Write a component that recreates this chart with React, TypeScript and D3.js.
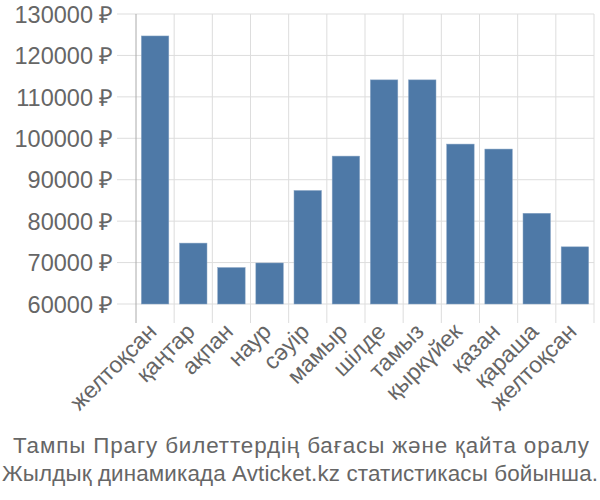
import React from "react";
import * as d3 from "d3";

const months = ["желтоқсан", "қаңтар", "ақпан", "наур", "сәуір", "мамыр", "шілде", "тамыз", "қыркүйек", "қазан", "қараша", "желтоқсан"];
const prices = [124700, 74700, 68800, 69900, 87400, 95700, 114100, 114100, 98600, 97400, 81900, 73800];
const yTicks = [60000, 70000, 80000, 90000, 100000, 110000, 120000, 130000];
const titleLines = ["Тампы Прагу билеттердің бағасы және қайта оралу", "Жылдық динамикада Avticket.kz статистикасы бойынша."];
const titleWidths = [576, 596];

export default function App() {
  const W = 600, H = 500;
  const left = 136, right = 594, top = 14, bottom = 304;
  const keys = months.map((_, i) => String(i));
  const x = d3.scaleBand<string>().domain(keys).range([left, right]).paddingInner(0.28).paddingOuter(0.14);
  const xb = d3.scaleBand<string>().domain(keys).range([left, right]);
  const y = d3.scaleLinear().domain([60000, 130000]).range([bottom, top]);
  const font = "'Liberation Sans', Arial, sans-serif";
  const bw = xb.bandwidth();
  return (
    <svg width={W} height={H} style={{ position: "absolute", left: 0, top: 0 }} fontFamily={font}>
      <rect width={W} height={H} fill="#fff" />
      {yTicks.map((t) => (
        <g key={t}>
          <line x1={117} x2={right} y1={y(t)} y2={y(t)} stroke="#ddd" strokeWidth={1} />
          <text x={113.5} y={y(t)} dy="0.37em" textAnchor="end" fontSize={23.5} fill="#666">{`${t} ₽`}</text>
        </g>
      ))}
      {keys.map((k) => (
        <line key={k} x1={xb(k)! + bw} x2={xb(k)! + bw} y1={top} y2={323} stroke="#ddd" strokeWidth={1} />
      ))}
      <line x1={left} x2={left} y1={top} y2={323} stroke="#aaa" strokeWidth={1} />
      {prices.map((v, i) => (
        <rect key={i} x={x(keys[i])} y={y(v)} width={x.bandwidth()} height={bottom - y(v)} fill="#4e79a7" stroke="#8aa6c6" strokeWidth={0.5} />
      ))}
      {months.map((m, i) => {
        const cx = xb(keys[i])! + bw / 2 + 3;
        const cy = 333;
        return (
          <text key={i} transform={`translate(${cx},${cy}) rotate(-45)`} textAnchor="end" fontSize={23} fill="#666">{m}</text>
        );
      })}
      {titleLines.map((t, i) => (
        <text key={i} x={300 - titleWidths[i] / 2 + (i === 0 ? 1 : 0)} y={453 + i * 28} textLength={titleWidths[i]} lengthAdjust="spacing" fontSize={22.4} fill="#666">{t}</text>
      ))}
    </svg>
  );
}
